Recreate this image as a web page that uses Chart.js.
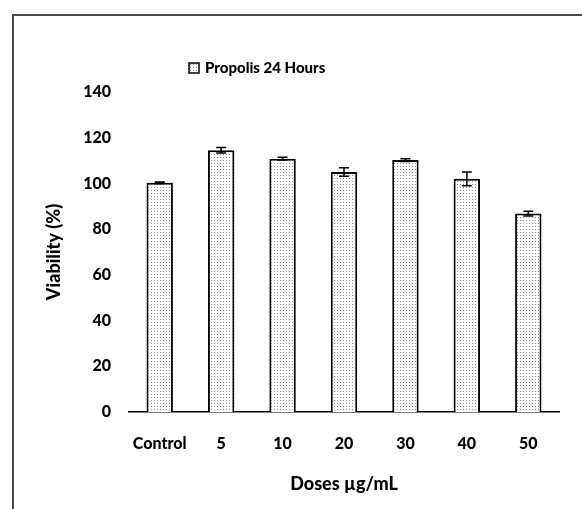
<!DOCTYPE html>
<html>
<head>
<meta charset="utf-8">
<script src="https://cdn.jsdelivr.net/npm/chart.js@4/dist/chart.umd.min.js"></script>
<style>
  html, body { margin: 0; padding: 0; background: #fff; }
  #wrap { width: 582px; height: 509px; }
</style>
</head>
<body>
<div id="wrap"><canvas id="viabilityChart" width="582" height="509"></canvas></div>
<script>
// 数据
const doseLabels = ['Control', '5', '10', '20', '30', '40', '50'];
const viability = [100.3, 114.5, 110.8, 105, 110.2, 102, 86.8];
const viabilityErr = [0.3, 1.2, 0.6, 1.9, 0.6, 3, 1];
const seriesName = 'Propolis 24 Hours';
const yTicks = [0, 20, 40, 60, 80, 100, 120, 140];

const FONT = 'Lato, "Liberation Sans", sans-serif';
const W = 900;

// 点状填充
function dotPattern() {
  const c = document.createElement('canvas');
  c.width = 3; c.height = 3;
  const g = c.getContext('2d');
  g.fillStyle = '#ffffff';
  g.fillRect(0, 0, 3, 3);
  g.fillStyle = '#8a8a8a';
  g.fillRect(1, 1, 1, 1);
  return g.createPattern(c, 'repeat');
}
const dots = dotPattern();

// 外框（左、上）
const framePlugin = {
  id: 'frame',
  beforeDraw(chart) {
    const ctx = chart.ctx;
    ctx.save();
    ctx.strokeStyle = '#4a4a4a';
    ctx.lineWidth = 2;
    ctx.beginPath();
    ctx.moveTo(13, chart.height);
    ctx.lineTo(13, 15);
    ctx.lineTo(chart.width, 15);
    ctx.stroke();
    ctx.restore();
  }
};

// 误差线
const errorBarPlugin = {
  id: 'errorBars',
  afterDatasetsDraw(chart) {
    const ctx = chart.ctx;
    const y = chart.scales.y;
    const meta = chart.getDatasetMeta(0);
    ctx.save();
    ctx.strokeStyle = '#000';
    ctx.lineWidth = 1.5;
    meta.data.forEach((bar, i) => {
      const v = viability[i], e = viabilityErr[i];
      const top = y.getPixelForValue(v + e);
      const bot = y.getPixelForValue(v - e);
      ctx.beginPath();
      ctx.moveTo(bar.x, top); ctx.lineTo(bar.x, bot);
      ctx.moveTo(bar.x - 5, top); ctx.lineTo(bar.x + 5, top);
      ctx.moveTo(bar.x - 5, bot); ctx.lineTo(bar.x + 5, bot);
      ctx.stroke();
    });
    ctx.restore();
  }
};

// 图例
const legendPlugin = {
  id: 'customLegend',
  afterDraw(chart) {
    const ctx = chart.ctx;
    const x = chart.chartArea.left + 60;
    const y = chart.chartArea.top - 24;
    ctx.save();
    ctx.fillStyle = dots;
    ctx.fillRect(x, y - 5, 10, 10);
    ctx.strokeStyle = '#000';
    ctx.lineWidth = 1.5;
    ctx.strokeRect(x, y - 5, 10, 10);
    ctx.fillStyle = '#000';
    ctx.font = W + ' 15px ' + FONT;
    ctx.textBaseline = 'middle';
    ctx.fillText(seriesName, x + 16, y);
    ctx.restore();
  }
};

const ctx = document.getElementById('viabilityChart').getContext('2d');
new Chart(ctx, {
  type: 'bar',
  data: {
    labels: doseLabels,
    datasets: [{
      label: seriesName,
      data: viability,
      backgroundColor: dots,
      borderColor: '#000',
      borderWidth: 2,
      borderSkipped: 'start',
      categoryPercentage: 1,
      barPercentage: 0.43
    }]
  },
  options: {
    responsive: false,
    animation: false,
    layout: { padding: { top: 92, right: 23, left: 0, bottom: 0 } },
    plugins: {
      legend: { display: false },
      tooltip: { enabled: false }
    },
    scales: {
      x: {
        grid: { display: false, drawTicks: false },
        border: { display: true, color: '#000', width: 1.5 },
        ticks: { color: '#000', font: { family: FONT, size: 16, weight: W }, padding: 22 },
        title: {
          display: true, text: 'Doses µg/mL', color: '#000',
          font: { family: FONT, size: 18, weight: W },
          padding: { top: 0, bottom: 14 }
        },
        afterFit(scale) { scale.height = 97; }
      },
      y: {
        min: 0, max: 140,
        afterBuildTicks(scale) { scale.ticks = yTicks.map(v => ({ value: v })); },
        grid: { display: false, drawTicks: false },
        border: { display: false },
        ticks: { color: '#000', font: { family: FONT, size: 16, weight: W }, padding: 18 },
        title: {
          display: true, text: 'Viability (%)', color: '#000',
          font: { family: FONT, size: 18, weight: W },
          padding: { top: 43, bottom: 0 }
        },
        afterFit(scale) { scale.width = 129; }
      }
    }
  },
  plugins: [framePlugin, errorBarPlugin, legendPlugin]
});
</script>
</body>
</html>
